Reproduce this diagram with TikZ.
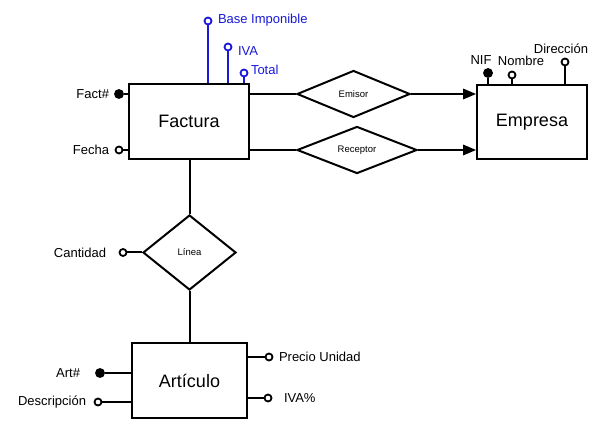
\documentclass[tikz,border=0pt]{standalone}
\usepackage{fontspec}
\setmainfont{Liberation Sans}
\usetikzlibrary{shapes.geometric,arrows}
\definecolor{attrblue}{RGB}{25,25,215}

\begin{document}
\begin{tikzpicture}[x=1pt, y=-1pt, line width=2pt,
    entity/.style={draw, rectangle, font=\fontsize{18}{20}\selectfont},
    relation/.style={draw, diamond, inner sep=0pt, font=\fontsize{9.5}{11}\selectfont},
    attr/.style={draw, circle, line width=1.8pt, minimum size=7pt, inner sep=0pt, fill=white},
    keyattr/.style={draw, circle, line width=1.3pt, minimum size=8.5pt, inner sep=0pt, fill=black},
    lbl/.style={font=\fontsize{13}{15}\selectfont, inner sep=0pt}]
    \useasboundingbox (0,0) rectangle (610,438);

    % entities and relations
    \node[entity, minimum width=120pt, minimum height=75pt] (factura) at (189,121.5) {Factura};
    \node[entity, minimum width=110pt, minimum height=74pt] (empresa) at (532,122) {Empresa};
    \node[entity, minimum width=115pt, minimum height=75pt] (articulo) at (189.5,380.5) {Art\'{\i}culo};
    \node[relation, minimum width=113pt, minimum height=47pt] (emisor) at (353.5,94) {Emisor};
    \node[relation, minimum width=120pt, minimum height=47pt] (receptor) at (357,150) {Receptor};
    \node[relation, minimum width=93pt, minimum height=75pt] (linea) at (189.5,252.5) {L\'{\i}nea};

    \draw (factura.east |- emisor) -- (emisor.west);
    \draw (factura.east |- receptor) -- (receptor.west);
    \draw[-triangle 45] (emisor.east) -- (empresa.west |- emisor);
    \draw[-triangle 45] (receptor.east) -- (empresa.west |- receptor);
    \draw (factura.south -| linea) -- (linea.north);
    \draw (linea.south) -- (articulo.north -| linea);

    % attributes of Factura
    \node[keyattr] (factnum) at (119,94) {};
    \node[attr] (fecha) at (119,150) {};
    \node[lbl, anchor=east] at (110,94) {Fact\#};
    \node[lbl, anchor=east] at (110,150) {Fecha};
    \draw (factnum) -- (factnum -| factura.west);
    \draw (fecha) -- (fecha -| factura.west);

    \begin{scope}[attrblue]
    \node[attr] (base) at (208,21) {};
    \node[attr] (iva) at (228,47) {};
    \node[attr] (total) at (244,73) {};
    \node[lbl, anchor=west] at (217,20) {Base Imponible};
    \node[lbl, anchor=west] at (237,51) {IVA};
    \node[lbl, anchor=west] at (250,70) {Total};
    \draw (base) -- (base |- factura.north);
    \draw (iva) -- (iva |- factura.north);
    \draw (total) -- (total |- factura.north);
    \end{scope}

    % attributes of Empresa
    \node[keyattr] (nif) at (488,73) {};
    \node[attr] (nombre) at (512,75) {};
    \node[attr] (direccion) at (565,62) {};
    \node[lbl] at (481,60) {NIF};
    \node[lbl] at (521,61) {Nombre};
    \node[lbl] at (561,49) {Direcci\'on};
    \draw (nif) -- (nif |- empresa.north);
    \draw (nombre) -- (nombre |- empresa.north);
    \draw (direccion) -- (direccion |- empresa.north);

    % attribute of Linea
    \node[attr] (cantidad) at (123,252.5) {};
    \node[lbl, anchor=east] at (107,252.5) {Cantidad};
    \draw (cantidad) -- (linea.west);

    % attributes of Articulo
    \node[keyattr] (artnum) at (100,373) {};
    \node[attr] (descripcion) at (98,402) {};
    \node[attr] (precio) at (269,357) {};
    \node[attr] (ivapc) at (268,398) {};
    \node[lbl, anchor=east] at (81,373) {Art\#};
    \node[lbl, anchor=east] at (87,402) {Descripci\'on};
    \node[lbl, anchor=west] at (278,357) {Precio Unidad};
    \node[lbl, anchor=west] at (283,398) {IVA\%};
    \draw (artnum) -- (artnum -| articulo.west);
    \draw (descripcion) -- (descripcion -| articulo.west);
    \draw (precio) -- (precio -| articulo.east);
    \draw (ivapc) -- (ivapc -| articulo.east);
\end{tikzpicture}
\end{document}
